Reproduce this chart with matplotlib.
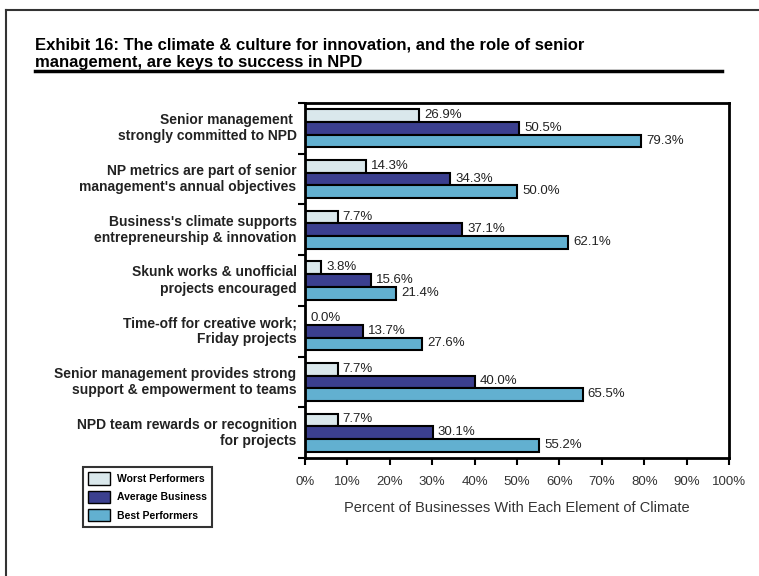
import matplotlib
matplotlib.use("Agg")
import matplotlib.pyplot as plt
import numpy as np
from matplotlib.lines import Line2D
from matplotlib.patches import Patch

plt.rcParams['font.family'] = ['Liberation Sans', 'DejaVu Sans']

categories = [
    "Senior management \nstrongly committed to NPD",
    "NP metrics are part of senior\nmanagement's annual objectives",
    "Business's climate supports\nentrepreneurship & innovation",
    "Skunk works & unofficial\nprojects encouraged",
    "Time-off for creative work;\nFriday projects",
    "Senior management provides strong\nsupport & empowerment to teams",
    "NPD team rewards or recognition\nfor projects",
]
worst = [26.9, 14.3, 7.7, 3.8, 0.0, 7.7, 7.7]
average = [50.5, 34.3, 37.1, 15.6, 13.7, 40.0, 30.1]
best = [79.3, 50.0, 62.1, 21.4, 27.6, 65.5, 55.2]
series_names = ["Worst Performers", "Average Business", "Best Performers"]
colors = ["#DAE8EC", "#3B3F8F", "#62B0D0"]
xticks = list(range(0, 101, 10))


def main():
    W, H = 759, 576
    fig = plt.figure(figsize=(W / 100, H / 100), dpi=100)

    # outer frame (top and left only) and title underline
    fig.add_artist(Line2D([6 / W, 1], [1 - 10 / H, 1 - 10 / H], color='#333333', lw=1.5))
    fig.add_artist(Line2D([6 / W, 6 / W], [0, 1 - 10 / H], color='#333333', lw=1.5))
    fig.add_artist(Line2D([35 / W, 722 / W], [1 - 71 / H, 1 - 71 / H], color='black', lw=2.5))

    fig.text(35 / W, 1 - 50 / H,
             "Exhibit 16: The climate & culture for innovation, and the role of senior",
             fontsize=12, fontweight='bold', ha='left', va='baseline')
    fig.text(35 / W, 1 - 67 / H, "management, are keys to success in NPD",
             fontsize=12, fontweight='bold', ha='left', va='baseline')

    ax = fig.add_axes([305 / W, 1 - 458 / H, 424 / W, 355 / H])
    n = len(categories)
    y = np.arange(n) + 0.5
    h = 0.25
    offsets = [-0.25, 0.0, 0.25]
    for vals, off, col in zip([worst, average, best], offsets, colors):
        ax.barh(y + off, vals, height=h, color=col, edgecolor='black', linewidth=1.5)
        for yy, v in zip(y + off, vals):
            ax.text(v + 1.2, yy - 0.01, f"{v:.1f}%", fontsize=9.5, color='#222222',
                    ha='left', va='center')

    ax.set_xlim(0, 100)
    ax.set_ylim(n, 0)
    ax.set_xticks(xticks)
    ax.set_xticklabels([f"{t}%" for t in xticks], fontsize=9.5, color='#333333')
    ax.set_yticks(np.arange(n + 1))
    ax.set_yticklabels([])
    ax.tick_params(axis='both', direction='out', length=5, width=1.5)
    ax.tick_params(axis='x', pad=8)
    for s in ax.spines.values():
        s.set_linewidth(2)
    ax.set_xlabel("Percent of Businesses With Each Element of Climate", fontsize=10.5,
                  color='#333333', labelpad=9)

    for yy, cat in zip(y, categories):
        ax.text(-2.0, yy, cat, fontsize=10, fontweight='bold', ha='right', va='center',
                color='#222222', linespacing=1.2, transform=ax.transData, clip_on=False)

    handles = [Patch(facecolor=c, edgecolor='black', linewidth=1) for c in colors]
    leg = fig.legend(handles, series_names, loc='upper left',
                     bbox_to_anchor=(83 / W, 1 - 467 / H), borderaxespad=0,
                     prop={'weight': 'bold', 'size': 7.5}, frameon=True, fancybox=False,
                     edgecolor='black', handlelength=2.1, handleheight=1.45,
                     labelspacing=0.58, borderpad=0.5, handletextpad=0.7)
    leg.get_frame().set_linewidth(1.5)

    fig.savefig("out.png", dpi=100)


if __name__ == "__main__":
    main()
